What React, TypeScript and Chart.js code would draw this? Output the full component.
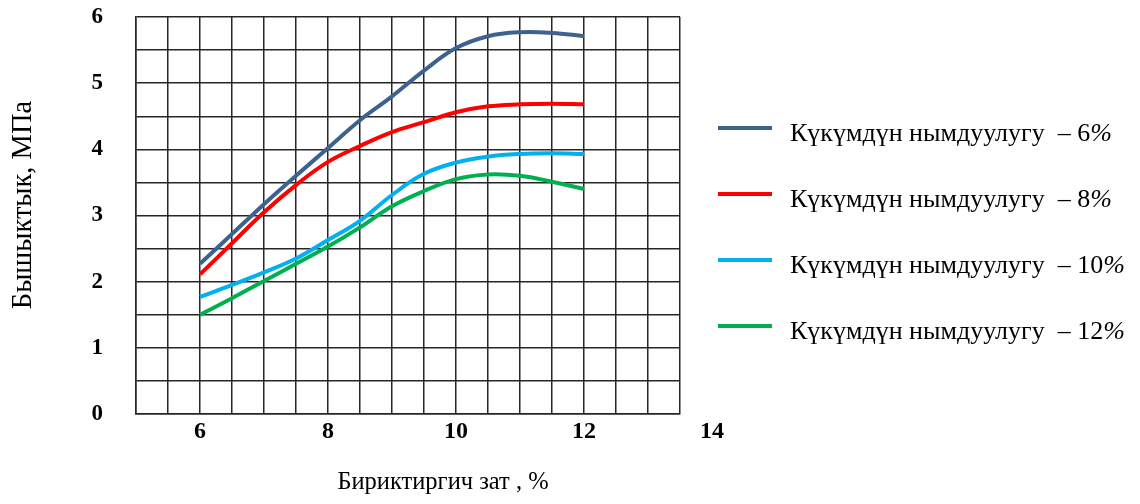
import React, { useEffect, useRef } from "react";
import { Chart, registerables } from "chart.js";

Chart.register(...registerables);

const xValues = [6, 6.5, 7, 7.5, 8, 8.5, 9, 9.5, 10, 10.5, 11, 11.5, 12];
const moisture6 = [2.27, 2.72, 3.17, 3.6, 4.02, 4.44, 4.8, 5.19, 5.53, 5.71, 5.77, 5.76, 5.71];
const moisture8 = [2.11, 2.58, 3.05, 3.46, 3.81, 4.05, 4.26, 4.41, 4.56, 4.65, 4.68, 4.69, 4.68];
const moisture10 = [1.77, 1.95, 2.14, 2.35, 2.63, 2.92, 3.31, 3.63, 3.8, 3.89, 3.93, 3.94, 3.93];
const moisture12 = [1.5, 1.75, 2.01, 2.27, 2.53, 2.82, 3.14, 3.37, 3.55, 3.62, 3.6, 3.51, 3.4];

const seriesLabels = [
  "Күкүмдүн нымдуулугу  – 6%",
  "Күкүмдүн нымдуулугу  – 8%",
  "Күкүмдүн нымдуулугу  – 10%",
  "Күкүмдүн нымдуулугу  – 12%",
];
const seriesColors = ["#3D6290", "#FF0000", "#00B0F0", "#00B050"];
const xTickLabels = [6, 8, 10, 12, 14];
const xTitle = "Бириктиргич зат , %";
const yTitle = "Бышыктык, МПа";

const SERIF = '"Liberation Serif", "Times New Roman", serif';

const overlayPlugin = {
  id: "overlay",
  afterDraw(chart: any) {
    const ctx = chart.ctx as CanvasRenderingContext2D;
    const area = chart.chartArea;
    const xs = chart.scales.x;
    ctx.save();
    // x tick labels
    ctx.fillStyle = "#000";
    ctx.font = `bold 24px ${SERIF}`;
    ctx.textAlign = "center";
    ctx.textBaseline = "middle";
    xTickLabels.forEach((v) => {
      ctx.fillText(String(v), xs.getPixelForValue(v), area.bottom + 18);
    });
    // axis titles
    ctx.font = `24.5px ${SERIF}`;
    ctx.textBaseline = "alphabetic";
    ctx.fillText(xTitle, 443, 489);
    ctx.save();
    ctx.translate(31, 205);
    ctx.rotate(-Math.PI / 2);
    ctx.font = `28.5px ${SERIF}`;
    ctx.fillText(yTitle, 0, 0);
    ctx.restore();
    // legend
    chart.data.datasets.forEach((ds: any, i: number) => {
      const base = 141 + i * 66;
      ctx.strokeStyle = ds.borderColor;
      ctx.lineWidth = 4;
      ctx.beginPath();
      ctx.moveTo(718, base - 13);
      ctx.lineTo(772, base - 13);
      ctx.stroke();
      const label: string = ds.label;
      const main = label.endsWith("%") ? label.slice(0, -1) : label;
      ctx.textAlign = "left";
      ctx.font = `26px ${SERIF}`;
      ctx.fillStyle = "#000";
      ctx.fillText(main, 790, base);
      if (label.endsWith("%")) {
        const w = ctx.measureText(main).width;
        ctx.font = `italic 26px ${SERIF}`;
        ctx.fillText("%", 790 + w, base);
      }
    });
    ctx.restore();
  },
};

export default function App() {
  const canvasRef = useRef<HTMLCanvasElement | null>(null);

  useEffect(() => {
    document.body.style.margin = "0";
    const canvas = canvasRef.current;
    if (!canvas) return;
    const series = [moisture6, moisture8, moisture10, moisture12];
    const chart = new Chart(canvas, {
      type: "line",
      data: {
        datasets: series.map((vals, i) => ({
          label: seriesLabels[i],
          data: xValues.map((x, j) => ({ x, y: vals[j] })),
          borderColor: seriesColors[i],
          backgroundColor: seriesColors[i],
          borderWidth: 4,
          pointRadius: 0,
          tension: 0.4,
          fill: false,
        })),
      },
      options: {
        animation: false,
        responsive: true,
        maintainAspectRatio: false,
        layout: { padding: { top: 17, right: 460, left: 0, bottom: 0 } },
        plugins: { legend: { display: false }, tooltip: { enabled: false } },
        scales: {
          x: {
            type: "linear",
            min: 5,
            max: 13.5,
            ticks: { stepSize: 0.5, display: false },
            grid: { color: "#262626", lineWidth: 1.5, drawTicks: false },
            border: { display: true, color: "#262626", width: 1.5 },
            afterFit: (scale: any) => {
              scale.height = 90;
            },
          },
          y: {
            type: "linear",
            min: 0,
            max: 6,
            ticks: {
              stepSize: 0.5,
              padding: 0,
              color: "#000",
              font: { family: SERIF, size: 23, weight: "bold" },
              callback: (v: any) => (Number.isInteger(v) ? String(v) : ""),
            },
            grid: {
              color: "#262626",
              lineWidth: 1.5,
              drawTicks: true,
              tickLength: 33,
              tickColor: "rgba(0,0,0,0)",
            },
            border: { display: true, color: "#262626", width: 1.5 },
            afterFit: (scale: any) => {
              scale.width = 136;
            },
          },
        },
      },
      plugins: [overlayPlugin],
    });
    return () => chart.destroy();
  }, []);

  return (
    <div style={{ width: 1140, height: 504, position: "relative", background: "#fff" }}>
      <canvas ref={canvasRef} />
    </div>
  );
}
